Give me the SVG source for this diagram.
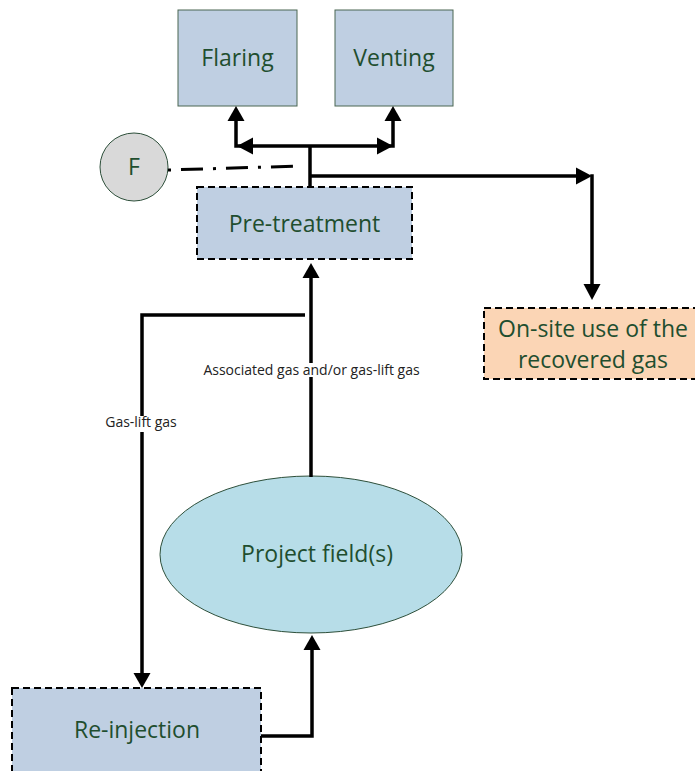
<svg xmlns="http://www.w3.org/2000/svg" width="695" height="771" viewBox="0 0 695 771">
<style>
.lbl{font-family:"Open Sans","Liberation Sans",sans-serif;font-size:23px;fill:#1f4e2f;text-anchor:middle}
.sm{font-family:"Open Sans","Liberation Sans",sans-serif;font-size:14px;fill:#222;text-anchor:middle}
.solid{fill:#bfcfe2;stroke:#4a6652;stroke-width:1}
.dash{stroke:#000;stroke-width:2;stroke-dasharray:7,4}
.ln{fill:none;stroke:#000;stroke-width:3.5}
.ah{fill:#000}
</style>
<rect width="695" height="771" fill="#fff"/>
<g id="flaring"><rect class="solid" x="178" y="10" width="119" height="96"/><text class="lbl" x="237.5" y="66">Flaring</text></g>
<g id="venting"><rect class="solid" x="335" y="10" width="118" height="96"/><text class="lbl" x="394" y="66">Venting</text></g>
<g id="f"><circle cx="134" cy="167" r="34" fill="#d9d9d9" stroke="#2d4f3a" stroke-width="1"/><text class="lbl" x="134" y="175">F</text></g>
<g id="pretreatment"><rect class="dash" fill="#bfcfe2" x="197" y="187" width="215" height="72"/><text class="lbl" x="304.5" y="232">Pre-treatment</text></g>
<g id="onsite"><rect class="dash" fill="#fbd5b5" x="484" y="308" width="220" height="71"/><text class="lbl" x="593" y="337">On-site use of the</text><text class="lbl" x="593" y="368">recovered gas</text></g>
<g id="field"><ellipse cx="311" cy="554.5" rx="151" ry="78.5" fill="#b7dde8" stroke="#2d4f3a" stroke-width="1"/><text class="lbl" x="317" y="562">Project field(s)</text></g>
<g id="reinjection"><rect class="dash" fill="#bfcfe2" x="12" y="688" width="249" height="90"/><text class="lbl" x="137" y="738">Re-injection</text></g>
<g id="connectors">
<path class="ln" d="M236,121 V146 H393 V121"/>
<path class="ln" d="M310,146 V187"/>
<path d="M168,170 L302,166" fill="none" stroke="#000" stroke-width="3" stroke-dasharray="3,10,22,10"/>
<path class="ln" d="M310,176 H578"/>
<path class="ln" d="M592,174.25 V284"/>
<path class="ln" d="M311,477 V278"/>
<path class="ln" d="M305,315 H142 V673"/>
<path class="ln" d="M261,736 H312 V650"/>
<polygon class="ah" points="236,106 244.5,121 227.5,121"/>
<polygon class="ah" points="393,106 401.5,121 384.5,121"/>
<polygon class="ah" points="237,146 253,137.5 253,154.5"/>
<polygon class="ah" points="393,146 377,137.5 377,154.5"/>
<polygon class="ah" points="592,176 576,167.5 576,184.5"/>
<polygon class="ah" points="592,300 583.5,284 600.5,284"/>
<polygon class="ah" points="311,263 319.5,278 302.5,278"/>
<polygon class="ah" points="142,688 133.5,673 150.5,673"/>
<polygon class="ah" points="312,635 320.5,650 303.5,650"/>
<rect x="290" y="363" width="42" height="14" fill="#fff"/>
<text class="sm" x="311.5" y="375">Associated gas and/or gas-lift gas</text>
<rect x="130" y="416" width="24" height="16" fill="#fff"/>
<text class="sm" x="141" y="427">Gas-lift gas</text>
</g>
</svg>
